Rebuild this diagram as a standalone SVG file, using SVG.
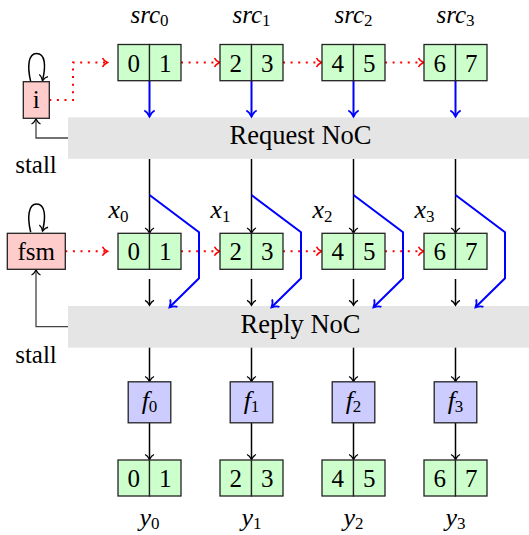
<svg xmlns="http://www.w3.org/2000/svg" width="529" height="535" viewBox="0 0 529 535">
  <style>
    .txt { font-family: "Liberation Serif", "DejaVu Serif", serif; font-size: 25px; fill: #000; }
    .big { font-size: 26.5px; }
    .math { font-family: "Liberation Serif", "DejaVu Serif", serif; font-style: italic; font-size: 26px; fill: #000; }
    .top { font-size: 25px; }
    .sub { font-style: normal; font-size: 17px; }
    .cell { fill: #ccffcc; stroke: #222; stroke-width: 1.3; }
    .ctrl { fill: #ffcccc; stroke: #222; stroke-width: 1.3; }
    .fn { fill: #ccccff; stroke: #222; stroke-width: 1.3; }
    .noc { fill: #e5e5e5; stroke: none; }
    .blk { fill: none; stroke: #000; stroke-width: 1.5; }
    .blu { fill: none; stroke: #0000ff; stroke-width: 2; stroke-linejoin: miter; }
    .red { fill: none; stroke: #ff0000; stroke-width: 2; stroke-dasharray: 2 5.6; }
    .stall { fill: none; stroke: #444; stroke-width: 1.3; }
  </style>
  <defs>
    <marker id="to-k" viewBox="-7 -6 9 12" markerWidth="9" markerHeight="12" refX="0" refY="0" orient="auto" markerUnits="userSpaceOnUse">
      <path d="M-5,-4.5 C-4,-2 -1.2,-0.6 0,0 C-1.2,0.6 -4,2 -5,4.5" fill="none" stroke="#000" stroke-width="1.3"/>
    </marker>
    <marker id="to-b" viewBox="-8 -7 10 14" markerWidth="10" markerHeight="14" refX="0" refY="0" orient="auto" markerUnits="userSpaceOnUse">
      <path d="M-6,-5.2 C-4.8,-2.4 -1.4,-0.7 0,0 C-1.4,0.7 -4.8,2.4 -6,5.2" fill="none" stroke="#0000ff" stroke-width="1.8"/>
    </marker>
    <marker id="to-r" viewBox="-7 -6 9 12" markerWidth="9" markerHeight="12" refX="0" refY="0" orient="auto" markerUnits="userSpaceOnUse">
      <path d="M-5,-4.5 C-4,-2 -1.2,-0.6 0,0 C-1.2,0.6 -4,2 -5,4.5" fill="none" stroke="#ff0000" stroke-width="1.6"/>
    </marker>
  </defs>

  <!-- network bars -->
  <g id="request-noc">
    <rect class="noc" x="68" y="117.3" width="461" height="41.5"/>
    <text class="txt big" x="300.5" y="143.5" text-anchor="middle">Request NoC</text>
  </g>
  <g id="reply-noc">
    <rect class="noc" x="68" y="306" width="461" height="41.7"/>
    <text class="txt big" x="300.5" y="333" text-anchor="middle">Reply NoC</text>
  </g>

  <!-- connectors -->
  <g id="connectors">
    <!-- control chains (dotted red) -->
    <path class="red" d="M49.3 100 H73 V62.5 H107.5" marker-end="url(#to-r)"/>
    <path class="red" d="M181 62.5 H219.5" marker-end="url(#to-r)"/>
    <path class="red" d="M283 62.5 H321.5" marker-end="url(#to-r)"/>
    <path class="red" d="M385 62.5 H423.5" marker-end="url(#to-r)"/>
    <path class="red" d="M65.3 251.3 H107.5" marker-end="url(#to-r)"/>
    <path class="red" d="M181 251.3 H219.5" marker-end="url(#to-r)"/>
    <path class="red" d="M283 251.3 H321.5" marker-end="url(#to-r)"/>
    <path class="red" d="M385 251.3 H423.5" marker-end="url(#to-r)"/>

    <!-- requests into the request network -->
    <path class="blu" d="M149.5 80.7 V116.5" marker-end="url(#to-b)"/>
    <path class="blu" d="M251.5 80.7 V116.5" marker-end="url(#to-b)"/>
    <path class="blu" d="M353.5 80.7 V116.5" marker-end="url(#to-b)"/>
    <path class="blu" d="M455.5 80.7 V116.5" marker-end="url(#to-b)"/>

    <!-- request network to x buffers -->
    <path class="blk" d="M149.5 159 V233" marker-end="url(#to-k)"/>
    <path class="blk" d="M251.5 159 V233" marker-end="url(#to-k)"/>
    <path class="blk" d="M353.5 159 V233" marker-end="url(#to-k)"/>
    <path class="blk" d="M455.5 159 V233" marker-end="url(#to-k)"/>

    <!-- bypass into the reply network -->
    <path class="blu" d="M149.5 195 L199 232.3 V278.3 L169.5 307.3" marker-end="url(#to-b)"/>
    <path class="blu" d="M251.5 195 L301 232.3 V278.3 L271.5 307.3" marker-end="url(#to-b)"/>
    <path class="blu" d="M353.5 195 L403 232.3 V278.3 L373.5 307.3" marker-end="url(#to-b)"/>
    <path class="blu" d="M455.5 195 L505 232.3 V278.3 L475.5 307.3" marker-end="url(#to-b)"/>

    <!-- x buffers into the reply network -->
    <path class="blk" d="M149.5 279 V305.3" marker-end="url(#to-k)"/>
    <path class="blk" d="M251.5 279 V305.3" marker-end="url(#to-k)"/>
    <path class="blk" d="M353.5 279 V305.3" marker-end="url(#to-k)"/>
    <path class="blk" d="M455.5 279 V305.3" marker-end="url(#to-k)"/>

    <!-- reply network to functions -->
    <path class="blk" d="M149.5 347.7 V381.5" marker-end="url(#to-k)"/>
    <path class="blk" d="M251.5 347.7 V381.5" marker-end="url(#to-k)"/>
    <path class="blk" d="M353.5 347.7 V381.5" marker-end="url(#to-k)"/>
    <path class="blk" d="M455.5 347.7 V381.5" marker-end="url(#to-k)"/>

    <!-- functions to outputs -->
    <path class="blk" d="M149.5 423 V459.5" marker-end="url(#to-k)"/>
    <path class="blk" d="M251.5 423 V459.5" marker-end="url(#to-k)"/>
    <path class="blk" d="M353.5 423 V459.5" marker-end="url(#to-k)"/>
    <path class="blk" d="M455.5 423 V459.5" marker-end="url(#to-k)"/>

    <!-- stall feedback -->
    <path class="stall" d="M68 138 H36 V119" marker-end="url(#to-k)"/>
    <path class="stall" d="M68 326.7 H36 V270" marker-end="url(#to-k)"/>

    <!-- self loops -->
    <path class="blk" stroke-width="1.3" d="M30.7 81.7 C27 66, 28.5 53.5, 36.5 53.5 C45.5 53.5, 46 66, 42.5 80.5" marker-end="url(#to-k)"/>
    <path class="blk" stroke-width="1.3" d="M30.7 232.3 C27 217, 28.5 204, 36.5 204 C45.5 204, 46 217, 42.5 231" marker-end="url(#to-k)"/>
  </g>

  <!-- control nodes -->
  <g id="ctrl-i">
    <rect class="ctrl" x="23.3" y="81.7" width="26" height="36.6"/>
    <text class="txt" x="36.3" y="108.3" text-anchor="middle">i</text>
  </g>
  <g id="ctrl-fsm">
    <rect class="ctrl" x="7.3" y="233.3" width="58" height="36"/>
    <text class="txt" x="36.3" y="260.3" text-anchor="middle">fsm</text>
  </g>
  <g id="stall-labels">
    <text class="txt" x="36" y="173" text-anchor="middle">stall</text>
    <text class="txt" x="36" y="363" text-anchor="middle">stall</text>
  </g>

  <!-- source buffers -->
  <g id="src0">
    <rect class="cell" x="118" y="44.5" width="31.5" height="36.2"/>
    <rect class="cell" x="149.5" y="44.5" width="31.5" height="36.2"/>
    <text class="txt" x="133.8" y="71.7" text-anchor="middle">0</text>
    <text class="txt" x="165.3" y="71.7" text-anchor="middle">1</text>
    <text class="math top" x="149.5" y="22.5" text-anchor="middle">src<tspan class="sub" dy="3.5">0</tspan></text>
  </g>
  <g id="src1">
    <rect class="cell" x="220" y="44.5" width="31.5" height="36.2"/>
    <rect class="cell" x="251.5" y="44.5" width="31.5" height="36.2"/>
    <text class="txt" x="235.8" y="71.7" text-anchor="middle">2</text>
    <text class="txt" x="267.3" y="71.7" text-anchor="middle">3</text>
    <text class="math top" x="251.5" y="22.5" text-anchor="middle">src<tspan class="sub" dy="3.5">1</tspan></text>
  </g>
  <g id="src2">
    <rect class="cell" x="322" y="44.5" width="31.5" height="36.2"/>
    <rect class="cell" x="353.5" y="44.5" width="31.5" height="36.2"/>
    <text class="txt" x="337.8" y="71.7" text-anchor="middle">4</text>
    <text class="txt" x="369.3" y="71.7" text-anchor="middle">5</text>
    <text class="math top" x="353.5" y="22.5" text-anchor="middle">src<tspan class="sub" dy="3.5">2</tspan></text>
  </g>
  <g id="src3">
    <rect class="cell" x="424" y="44.5" width="31.5" height="36.2"/>
    <rect class="cell" x="455.5" y="44.5" width="31.5" height="36.2"/>
    <text class="txt" x="439.8" y="71.7" text-anchor="middle">6</text>
    <text class="txt" x="471.3" y="71.7" text-anchor="middle">7</text>
    <text class="math top" x="455.5" y="22.5" text-anchor="middle">src<tspan class="sub" dy="3.5">3</tspan></text>
  </g>

  <!-- x buffers -->
  <g id="x0">
    <rect class="cell" x="118" y="233.3" width="31.5" height="36"/>
    <rect class="cell" x="149.5" y="233.3" width="31.5" height="36"/>
    <text class="txt" x="133.8" y="260.3" text-anchor="middle">0</text>
    <text class="txt" x="165.3" y="260.3" text-anchor="middle">1</text>
    <text class="math" x="118.5" y="218" text-anchor="middle">x<tspan class="sub" dy="4">0</tspan></text>
  </g>
  <g id="x1">
    <rect class="cell" x="220" y="233.3" width="31.5" height="36"/>
    <rect class="cell" x="251.5" y="233.3" width="31.5" height="36"/>
    <text class="txt" x="235.8" y="260.3" text-anchor="middle">2</text>
    <text class="txt" x="267.3" y="260.3" text-anchor="middle">3</text>
    <text class="math" x="220.5" y="218" text-anchor="middle">x<tspan class="sub" dy="4">1</tspan></text>
  </g>
  <g id="x2">
    <rect class="cell" x="322" y="233.3" width="31.5" height="36"/>
    <rect class="cell" x="353.5" y="233.3" width="31.5" height="36"/>
    <text class="txt" x="337.8" y="260.3" text-anchor="middle">4</text>
    <text class="txt" x="369.3" y="260.3" text-anchor="middle">5</text>
    <text class="math" x="322.5" y="218" text-anchor="middle">x<tspan class="sub" dy="4">2</tspan></text>
  </g>
  <g id="x3">
    <rect class="cell" x="424" y="233.3" width="31.5" height="36"/>
    <rect class="cell" x="455.5" y="233.3" width="31.5" height="36"/>
    <text class="txt" x="439.8" y="260.3" text-anchor="middle">6</text>
    <text class="txt" x="471.3" y="260.3" text-anchor="middle">7</text>
    <text class="math" x="424.5" y="218" text-anchor="middle">x<tspan class="sub" dy="4">3</tspan></text>
  </g>

  <!-- functions -->
  <g id="f0">
    <rect class="fn" x="128.2" y="381.8" width="42.6" height="41"/>
    <text class="math" x="149.5" y="409" text-anchor="middle">f<tspan class="sub" dy="3">0</tspan></text>
  </g>
  <g id="f1">
    <rect class="fn" x="230.2" y="381.8" width="42.6" height="41"/>
    <text class="math" x="251.5" y="409" text-anchor="middle">f<tspan class="sub" dy="3">1</tspan></text>
  </g>
  <g id="f2">
    <rect class="fn" x="332.2" y="381.8" width="42.6" height="41"/>
    <text class="math" x="353.5" y="409" text-anchor="middle">f<tspan class="sub" dy="3">2</tspan></text>
  </g>
  <g id="f3">
    <rect class="fn" x="434.2" y="381.8" width="42.6" height="41"/>
    <text class="math" x="455.5" y="409" text-anchor="middle">f<tspan class="sub" dy="3">3</tspan></text>
  </g>

  <!-- output buffers -->
  <g id="y0">
    <rect class="cell" x="118" y="460" width="31.5" height="36"/>
    <rect class="cell" x="149.5" y="460" width="31.5" height="36"/>
    <text class="txt" x="133.8" y="487" text-anchor="middle">0</text>
    <text class="txt" x="165.3" y="487" text-anchor="middle">1</text>
    <text class="math" x="149.5" y="526" text-anchor="middle">y<tspan class="sub" dy="3">0</tspan></text>
  </g>
  <g id="y1">
    <rect class="cell" x="220" y="460" width="31.5" height="36"/>
    <rect class="cell" x="251.5" y="460" width="31.5" height="36"/>
    <text class="txt" x="235.8" y="487" text-anchor="middle">2</text>
    <text class="txt" x="267.3" y="487" text-anchor="middle">3</text>
    <text class="math" x="251.5" y="526" text-anchor="middle">y<tspan class="sub" dy="3">1</tspan></text>
  </g>
  <g id="y2">
    <rect class="cell" x="322" y="460" width="31.5" height="36"/>
    <rect class="cell" x="353.5" y="460" width="31.5" height="36"/>
    <text class="txt" x="337.8" y="487" text-anchor="middle">4</text>
    <text class="txt" x="369.3" y="487" text-anchor="middle">5</text>
    <text class="math" x="353.5" y="526" text-anchor="middle">y<tspan class="sub" dy="3">2</tspan></text>
  </g>
  <g id="y3">
    <rect class="cell" x="424" y="460" width="31.5" height="36"/>
    <rect class="cell" x="455.5" y="460" width="31.5" height="36"/>
    <text class="txt" x="439.8" y="487" text-anchor="middle">6</text>
    <text class="txt" x="471.3" y="487" text-anchor="middle">7</text>
    <text class="math" x="455.5" y="526" text-anchor="middle">y<tspan class="sub" dy="3">3</tspan></text>
  </g>
</svg>
